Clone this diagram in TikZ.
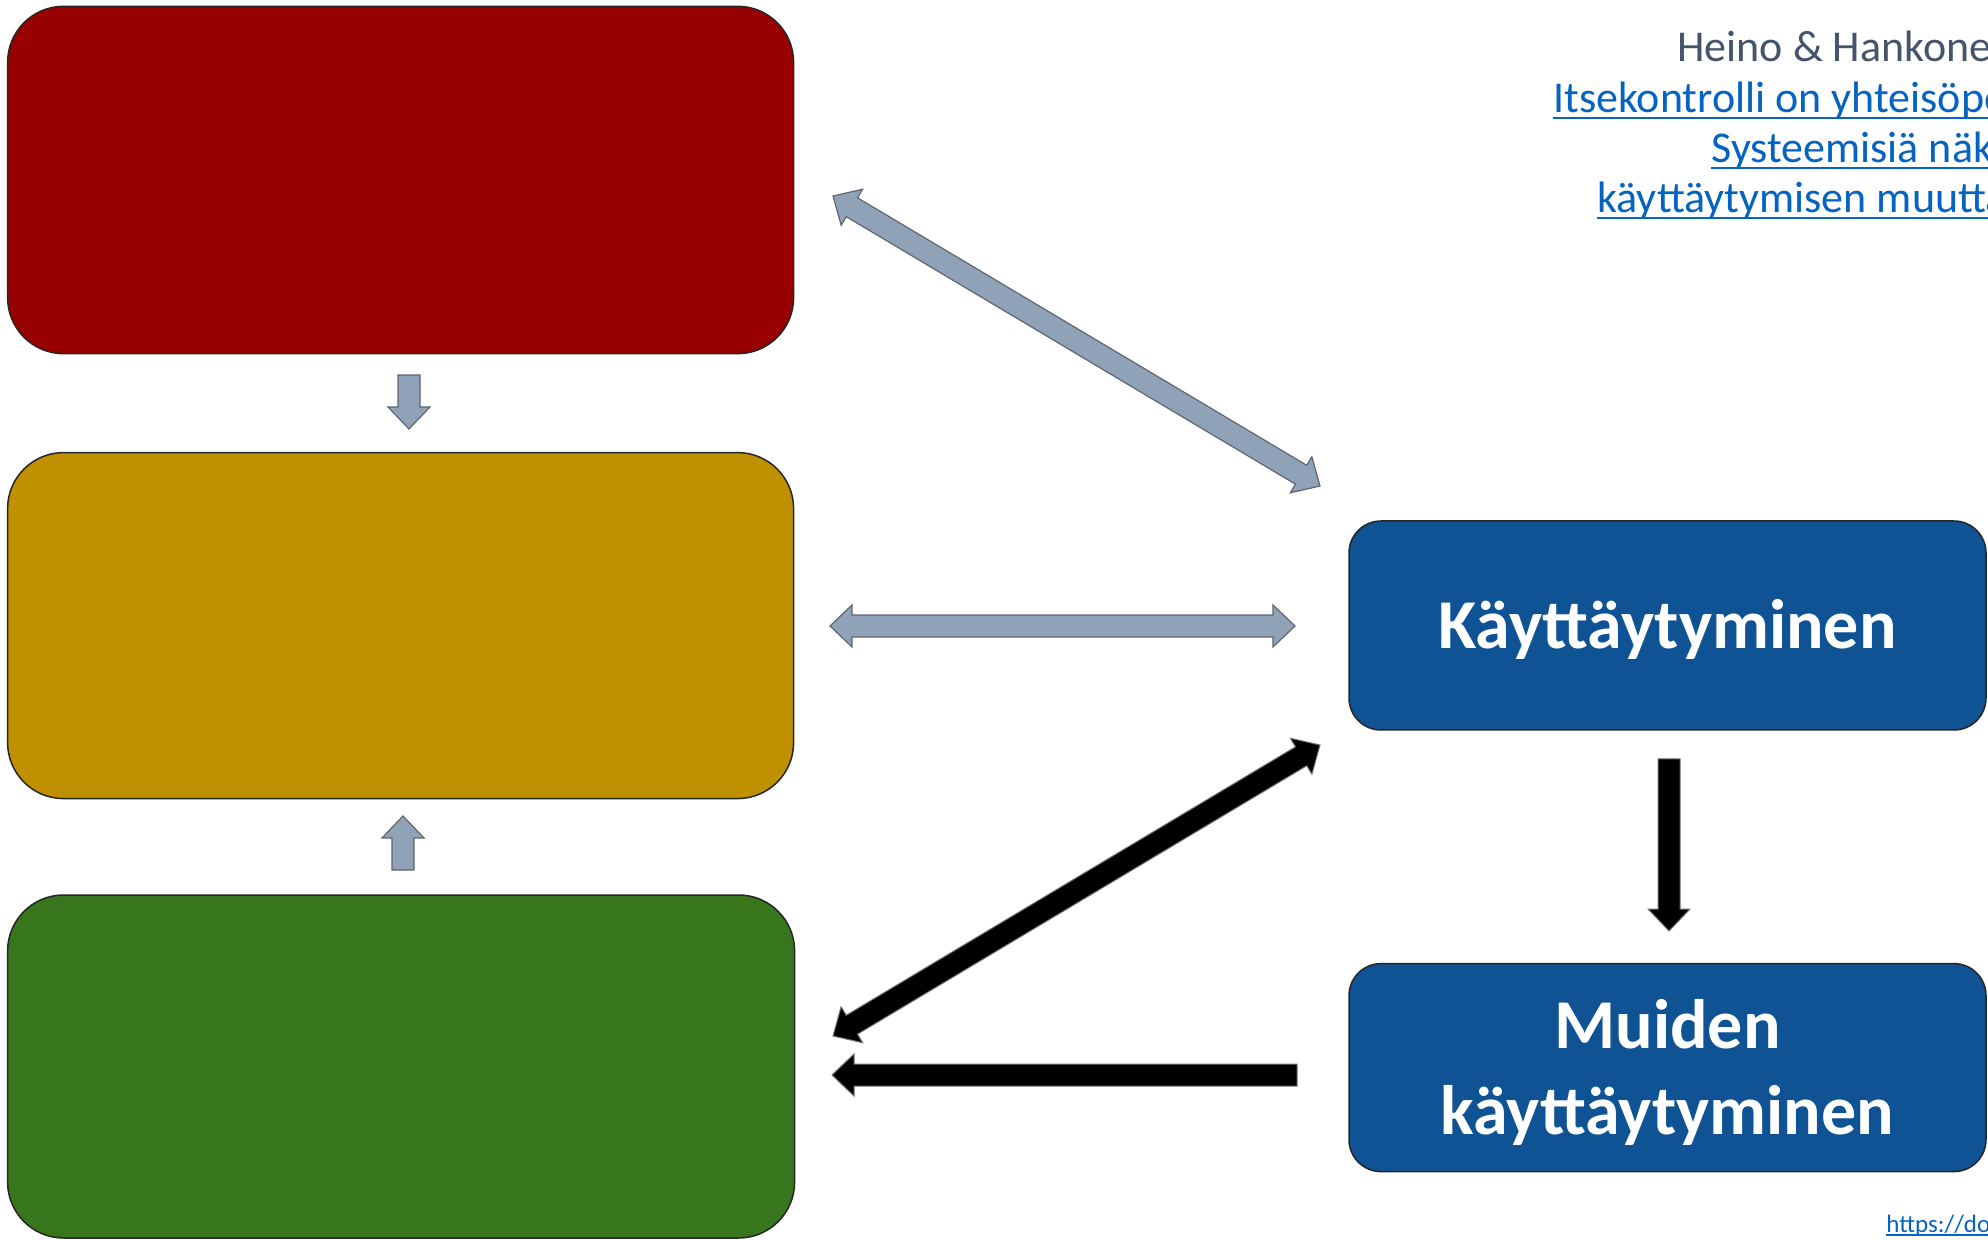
\documentclass[tikz,border=0pt]{standalone}
\usepackage{fontspec}
\setmainfont{Carlito}
\usetikzlibrary{calc}
\definecolor{boxred}{HTML}{990000}
\definecolor{boxyellow}{HTML}{BF9000}
\definecolor{boxgreen}{HTML}{38761D}
\definecolor{boxblue}{HTML}{0F5395}
\definecolor{arrowgray}{HTML}{8FA2B7}
\definecolor{edgegray}{HTML}{5F6670}
\definecolor{textgray}{HTML}{44546A}
\definecolor{linkblue}{HTML}{0563C1}

% half shaft, half head width, head length
\newcommand{\arshaft}{5.5pt}
\newcommand{\arhead}{10.5pt}
\newcommand{\arlen}{11pt}
% block arrow with two heads
\newcommand{\dblarrow}[3]{%
  \filldraw[#1] (#2) -- ($(#2)!\arlen!(#3)!\arhead!90:(#3)$)
    -- ($(#2)!\arlen!(#3)!\arshaft!90:(#3)$)
    -- ($(#3)!\arlen!(#2)!\arshaft!-90:(#2)$)
    -- ($(#3)!\arlen!(#2)!\arhead!-90:(#2)$)
    -- (#3)
    -- ($(#3)!\arlen!(#2)!\arhead!90:(#2)$)
    -- ($(#3)!\arlen!(#2)!\arshaft!90:(#2)$)
    -- ($(#2)!\arlen!(#3)!\arshaft!-90:(#3)$)
    -- ($(#2)!\arlen!(#3)!\arhead!-90:(#3)$) -- cycle;}
% block arrow with one head (at #3)
\newcommand{\sglarrow}[3]{%
  \filldraw[#1] ($(#2)!\arshaft!90:(#3)$)
    -- ($(#3)!\arlen!(#2)!\arshaft!-90:(#2)$)
    -- ($(#3)!\arlen!(#2)!\arhead!-90:(#2)$)
    -- (#3)
    -- ($(#3)!\arlen!(#2)!\arhead!90:(#2)$)
    -- ($(#3)!\arlen!(#2)!\arshaft!90:(#2)$)
    -- ($(#2)!\arshaft!-90:(#3)$) -- cycle;}

\begin{document}
\begin{tikzpicture}[x=0.5pt,y=-0.5pt,
    box/.style={draw=black!85,line width=0.75pt,anchor=north west,
      inner sep=0pt,outer sep=0pt,rounded corners=28pt},
    bluebox/.style={box,fill=boxblue,rounded corners=16pt,
      minimum width=318.5pt,minimum height=104.5pt},
    boxtext/.style={text=white,align=center,inner sep=0pt,
      font=\fontsize{35}{43}\selectfont\bfseries},
    grayarrow/.style={fill=arrowgray,draw=edgegray,line width=0.6pt,line join=miter},
    blackarrow/.style={fill=black,draw=black!55,line width=0.5pt,line join=miter},
    reftext/.style={anchor=base west,inner sep=0pt,font=\fontsize{22}{26}\selectfont}]
  \useasboundingbox (0,0) rectangle (1988,1240);
  \fill[white] (0,0) rectangle (1988,1240);
  \clip (0,0) rectangle (1988,1240);

  % left column
  \node[box,fill=boxred,minimum width=393pt,minimum height=173.7pt] (redbox) at (7.6,6.3) {};
  \node[box,fill=boxyellow,minimum width=393pt,minimum height=173pt] (yellowbox) at (7.6,452.6) {};
  \node[box,fill=boxgreen,minimum width=393.5pt,minimum height=171.5pt] (greenbox) at (7.6,895) {};

  % right column
  \node[bluebox] (behav) at (1349,521) {};
  \node[bluebox,minimum height=104pt] (others) at (1349,963.6) {};
  \node[boxtext] (behavtext) at ([yshift=-2.2pt]behav.center) {Käyttäytyminen};
  \node[boxtext] (otherstext) at ([yshift=-2.5pt]others.center) {Muiden\\käyttäytyminen};

  % reference in the corner
  \node[reftext,text=textgray] (ref1) at (1677,62) {Heino \& Hankonen};
  \node[reftext,text=linkblue] (ref2) at (1553,112.5) {Itsekontrolli on yhteisöpo};
  \node[reftext,text=linkblue] (ref3) at (1711,162.5) {Systeemisiä näk};
  \node[reftext,text=linkblue] (ref4) at (1597,212.5) {käyttäytymisen muutta};
  \node[anchor=base west,inner sep=0pt,text=linkblue,font=\fontsize{12.5}{14}\selectfont] (doi) at (1886,1232) {https://do};
  \foreach \r in {ref2,ref3,ref4}
    \draw[linkblue,line width=1pt] ([yshift=-2.6pt]\r.base west) -- ([yshift=-2.6pt]\r.base east);
  \draw[linkblue,line width=0.6pt] ([yshift=-1.5pt]doi.base west) -- ([yshift=-1.5pt]doi.base east);

  % arrow ends
  \coordinate (gd1) at (833,196);
  \coordinate (gd2) at (1320,486);
  \coordinate (gh1) at (830,626);
  \coordinate (gh2) at (1295,626);
  \coordinate (bd1) at (1320,745);
  \coordinate (bd2) at (833,1036);
  \coordinate (bh1) at (1297,1075);
  \coordinate (bh2) at (832,1075);
  \coordinate (bv1) at (1669,759);
  \coordinate (bv2) at (1669,931);
  \coordinate (down1) at (409,375);
  \coordinate (down2) at (409,429);
  \coordinate (up1) at (403,870);
  \coordinate (up2) at (403,816);

  \dblarrow{grayarrow}{gd1}{gd2}
  \dblarrow{grayarrow}{gh1}{gh2}
  \sglarrow{grayarrow}{down1}{down2}
  \sglarrow{grayarrow}{up1}{up2}
  \dblarrow{blackarrow}{bd1}{bd2}
  \sglarrow{blackarrow}{bh1}{bh2}
  \sglarrow{blackarrow}{bv1}{bv2}
\end{tikzpicture}
\end{document}
